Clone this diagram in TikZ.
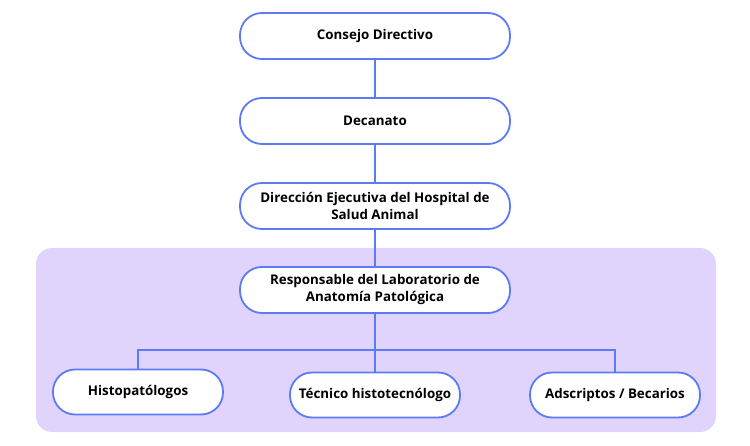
\documentclass[tikz,border=0pt]{standalone}
\usepackage{fontspec}
\setmainfont{Open Sans}
\begin{document}
\begin{tikzpicture}[x=1bp,y=-1bp,
  box/.style={draw=blueline,line width=1.8bp,fill=white,rounded corners=22bp,minimum width=270bp,minimum height=46bp,align=center,font=\fontsize{13.4}{17}\selectfont\bfseries,inner sep=2bp},
  sbox/.style={box,minimum width=170bp,minimum height=45bp},
  conn/.style={draw=blueline,line width=1.8bp}]
\definecolor{blueline}{RGB}{92,122,246}
\definecolor{lilac}{RGB}{224,212,253}
\useasboundingbox (0,0) rectangle (750,446);
\fill[lilac,rounded corners=16bp] (36,248) rectangle (716,432);
\node[box] (a) at (375,36) {Consejo Directivo};
\node[box] (b) at (375,121) {Decanato};
\node[box] (c) at (375,206) {Dirección Ejecutiva del Hospital de\\Salud Animal};
\node[box] (d) at (375,290) {Responsable del Laboratorio de\\Anatomía Patológica};
\node[sbox] (e) at (138,392) {Histopatólogos};
\node[sbox] (f) at (375,395) {Técnico histotecnólogo};
\node[sbox] (g) at (615,395) {Adscriptos / Becarios};
\coordinate (j) at (375,350);
\draw[conn] (a) -- (b);
\draw[conn] (b) -- (c);
\draw[conn] (c) -- (d);
\draw[conn] (d) -- (f);
\draw[conn] (e.north) |- (j) -| (g.north);
\end{tikzpicture}
\end{document}
